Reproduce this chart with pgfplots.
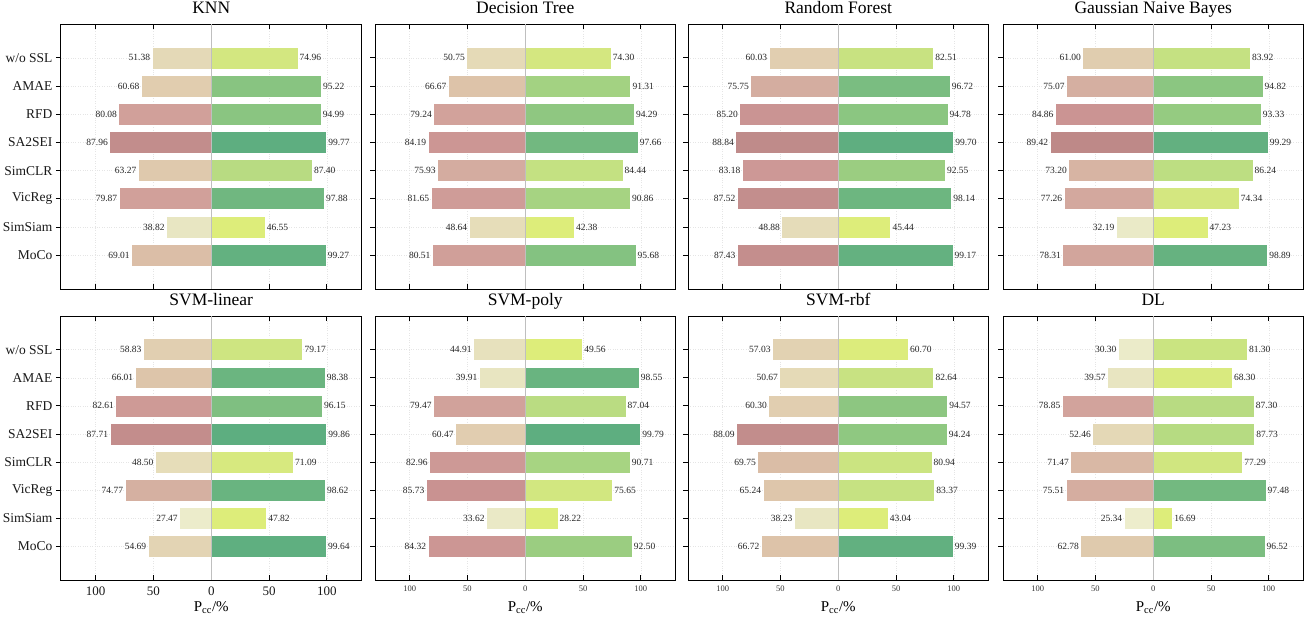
\documentclass[border=0pt]{standalone}
\usepackage{fontspec}
\setmainfont{Liberation Serif}
\usepackage{pgfplots}
\pgfplotsset{compat=1.18}

% left colormap anchors (value -> colour)
\definecolor{L25}{RGB}{237,237,204}
\definecolor{L30}{RGB}{235,235,201}
\definecolor{L35}{RGB}{233,232,197}
\definecolor{L40}{RGB}{232,229,193}
\definecolor{L45}{RGB}{231,225,189}
\definecolor{L50}{RGB}{229,219,184}
\definecolor{L55}{RGB}{227,212,180}
\definecolor{L60}{RGB}{225,206,176}
\definecolor{L65}{RGB}{222,199,171}
\definecolor{L70}{RGB}{218,188,166}
\definecolor{L75}{RGB}{213,175,161}
\definecolor{L80}{RGB}{209,160,154}
\definecolor{L85}{RGB}{203,148,147}
\definecolor{L90}{RGB}{188,136,135}
% right colormap anchors
\definecolor{R15}{RGB}{221,237,122}
\definecolor{R20}{RGB}{221,237,122}
\definecolor{R25}{RGB}{221,237,122}
\definecolor{R30}{RGB}{221,237,122}
\definecolor{R35}{RGB}{221,237,122}
\definecolor{R40}{RGB}{221,237,122}
\definecolor{R45}{RGB}{221,237,122}
\definecolor{R50}{RGB}{221,237,122}
\definecolor{R55}{RGB}{221,237,123}
\definecolor{R60}{RGB}{220,236,124}
\definecolor{R65}{RGB}{218,235,126}
\definecolor{R70}{RGB}{216,233,127}
\definecolor{R75}{RGB}{211,231,128}
\definecolor{R80}{RGB}{205,229,129}
\definecolor{R85}{RGB}{195,224,130}
\definecolor{R90}{RGB}{172,214,130}
\definecolor{R95}{RGB}{138,197,129}
\definecolor{R100}{RGB}{92,173,128}

\newcommand\Row[3]{%
  \pgfmathtruncatemacro\myLo{floor(#2/5)*5}%
  \pgfmathtruncatemacro\myHi{\myLo+5}%
  \pgfmathsetmacro\myPc{(#2-\myLo)*20}%
  \pgfmathtruncatemacro\myRLo{floor(#3/5)*5}%
  \pgfmathtruncatemacro\myRHi{\myRLo+5}%
  \pgfmathsetmacro\myRPc{(#3-\myRLo)*20}%
  \edef\myTmp{%
    \noexpand\addplot[lbar, fill=L\myHi!\myPc!L\myLo, nodes near coords={#2}] coordinates {(-#2,#1)};%
    \noexpand\addplot[rbar, fill=R\myRHi!\myRPc!R\myRLo, nodes near coords={#3}] coordinates {(#3,#1)};%
  }%
  \myTmp}

\pgfplotsset{
  lbar/.style={xbar, bar width=0.78, bar shift=0pt, draw=white, line width=0.6pt,
    every node near coord/.append style={anchor=east, font=\fontsize{9.5}{10}\selectfont, text=black!85, inner sep=1.5pt}},
  rbar/.style={xbar, bar width=0.78, bar shift=0pt, draw=white, line width=0.6pt,
    every node near coord/.append style={anchor=west, font=\fontsize{9.5}{10}\selectfont, text=black!85, inner sep=1.5pt}},
  panel/.style={
    scale only axis, width=300.5pt, height=265pt,
    anchor=south west,
    xmin=-130, xmax=130, ymin=-1.2, ymax=8.2, y dir=reverse,
    xtick={-100,-50,0,50,100}, xticklabels={},
    ytick={0,...,7}, yticklabels={},
    xtick pos=both, ytick pos=left,
    xtick align=inside, ytick align=outside,
    major tick length=5pt,
    tick style={black, line width=0.8pt},
    axis line style={black, line width=1pt},
    grid=major, major grid style={dotted, black!10, line width=0.5pt},
    /pgf/number format/assume math mode=true,
    title style={at={(0.5,1)}, anchor=base, yshift=4.5pt, font=\fontsize{17.5}{20}\selectfont},
    clip=false,
  },
  firstcol/.style={
    yticklabels={w/o SSL,AMAE,RFD,SA2SEI,SimCLR,VicReg,SimSiam,MoCo},
    yticklabel style={font=\fontsize{13.5}{15}\selectfont, text=black!90},
  },
  bottomrow/.style={
    height=264pt,
    xticklabels={100,50,0,50,100},
    xticklabel style={font=\fontsize{8.5}{10}\selectfont, text=black!80, yshift=-2pt},
    xlabel={P\textsubscript{cc}/\%},
    xlabel style={at={(axis description cs:0.5,0)}, anchor=base, yshift=-31pt, font=\fontsize{15}{16}\selectfont},
  },
  bottomfirst/.style={
    xticklabel style={font=\fontsize{13}{14}\selectfont, text=black!90, yshift=-1pt},
  },
}

\newcommand\Zero{\addplot[gray!50, line width=0.8pt, forget plot] coordinates {(0,-1.2) (0,8.2)};}

\begin{document}
\begin{tikzpicture}
\path[use as bounding box] (0,0) rectangle (1304pt,622pt);

% ---------------- row 1 ----------------
\begin{axis}[panel, firstcol, at={(61pt,333pt)}, title={KNN}]
\Row{0}{51.38}{74.96}
\Row{1}{60.68}{95.22}
\Row{2}{80.08}{94.99}
\Row{3}{87.96}{99.77}
\Row{4}{63.27}{87.40}
\Row{5}{79.87}{97.88}
\Row{6}{38.82}{46.55}
\Row{7}{69.01}{99.27}
\Zero
\end{axis}

\begin{axis}[panel, at={(375pt,333pt)}, title={Decision Tree}]
\Row{0}{50.75}{74.30}
\Row{1}{66.67}{91.31}
\Row{2}{79.24}{94.29}
\Row{3}{84.19}{97.66}
\Row{4}{75.93}{84.44}
\Row{5}{81.65}{90.86}
\Row{6}{48.64}{42.38}
\Row{7}{80.51}{95.68}
\Zero
\end{axis}

\begin{axis}[panel, at={(688pt,333pt)}, title={Random Forest}]
\Row{0}{60.03}{82.51}
\Row{1}{75.75}{96.72}
\Row{2}{85.20}{94.78}
\Row{3}{88.84}{99.70}
\Row{4}{83.18}{92.55}
\Row{5}{87.52}{98.14}
\Row{6}{48.88}{45.44}
\Row{7}{87.43}{99.17}
\Zero
\end{axis}

\begin{axis}[panel, at={(1003pt,333pt)}, title={Gaussian Naive Bayes}]
\Row{0}{61.00}{83.92}
\Row{1}{75.07}{94.82}
\Row{2}{84.86}{93.33}
\Row{3}{89.42}{99.29}
\Row{4}{73.20}{86.24}
\Row{5}{77.26}{74.34}
\Row{6}{32.19}{47.23}
\Row{7}{78.31}{98.89}
\Zero
\end{axis}

% ---------------- row 2 ----------------
\begin{axis}[panel, firstcol, bottomrow, bottomfirst, at={(61pt,42pt)}, title={SVM-linear}]
\Row{0}{58.83}{79.17}
\Row{1}{66.01}{98.38}
\Row{2}{82.61}{96.15}
\Row{3}{87.71}{99.86}
\Row{4}{48.50}{71.09}
\Row{5}{74.77}{98.62}
\Row{6}{27.47}{47.82}
\Row{7}{54.69}{99.64}
\Zero
\end{axis}

\begin{axis}[panel, bottomrow, at={(375pt,42pt)}, title={SVM-poly}]
\Row{0}{44.91}{49.56}
\Row{1}{39.91}{98.55}
\Row{2}{79.47}{87.04}
\Row{3}{60.47}{99.79}
\Row{4}{82.96}{90.71}
\Row{5}{85.73}{75.65}
\Row{6}{33.62}{28.22}
\Row{7}{84.32}{92.50}
\Zero
\end{axis}

\begin{axis}[panel, bottomrow, at={(688pt,42pt)}, title={SVM-rbf}]
\Row{0}{57.03}{60.70}
\Row{1}{50.67}{82.64}
\Row{2}{60.30}{94.57}
\Row{3}{88.09}{94.24}
\Row{4}{69.75}{80.94}
\Row{5}{65.24}{83.37}
\Row{6}{38.23}{43.04}
\Row{7}{66.72}{99.39}
\Zero
\end{axis}

\begin{axis}[panel, bottomrow, at={(1003pt,42pt)}, title={DL}]
\Row{0}{30.30}{81.30}
\Row{1}{39.57}{68.30}
\Row{2}{78.85}{87.30}
\Row{3}{52.46}{87.73}
\Row{4}{71.47}{77.29}
\Row{5}{75.51}{97.48}
\Row{6}{25.34}{16.69}
\Row{7}{62.78}{96.52}
\Zero
\end{axis}
\end{tikzpicture}
\end{document}
